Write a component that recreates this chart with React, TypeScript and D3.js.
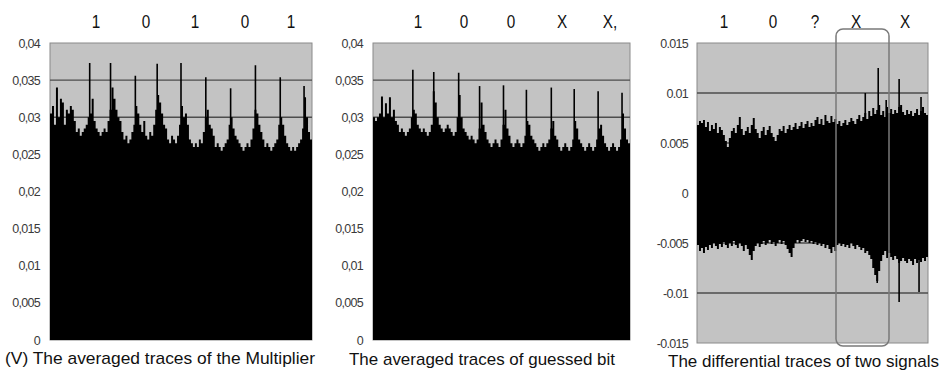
import React from "react";
import * as d3 from "d3";

// ---------- DATA ----------
// Panel 1: averaged traces of the multiplier (envelope samples, V)
const P1_ENV = [
  0.0305, 0.0315, 0.029, 0.034, 0.03, 0.0325, 0.032, 0.029, 0.031, 0.0305,
  0.0315, 0.031, 0.0295, 0.028, 0.0285, 0.0275, 0.028, 0.0285, 0.029, 0.03,
  0.0305, 0.0325, 0.0295, 0.0285, 0.028, 0.0275, 0.028, 0.0285, 0.028, 0.0295,
  0.031, 0.034, 0.0325, 0.031, 0.03, 0.0295, 0.028, 0.027, 0.0275, 0.0265,
  0.027, 0.028, 0.029, 0.0315, 0.0305, 0.029, 0.028, 0.0295, 0.0275, 0.027,
  0.028, 0.0275, 0.029, 0.031, 0.033, 0.032, 0.0305, 0.029, 0.0285, 0.027,
  0.0265, 0.0275, 0.027, 0.0265, 0.0275, 0.029, 0.0315, 0.03, 0.0305, 0.029,
  0.027, 0.0265, 0.026, 0.0265, 0.026, 0.027, 0.0265, 0.028, 0.03, 0.031,
  0.029, 0.0285, 0.0275, 0.026, 0.0265, 0.026, 0.0255, 0.026, 0.0265, 0.027,
  0.029, 0.03, 0.0285, 0.0275, 0.027, 0.0265, 0.026, 0.0255, 0.026, 0.0265,
  0.026, 0.027, 0.0285, 0.031, 0.0305, 0.029, 0.028, 0.027, 0.026, 0.0265,
  0.026, 0.0255, 0.026, 0.0265, 0.027, 0.029, 0.03, 0.029, 0.0275, 0.0265,
  0.026, 0.0255, 0.026, 0.0255, 0.026, 0.0265, 0.027, 0.0285, 0.0327, 0.03,
  0.028, 0.027,
];
const P1_SPIKE_AT = [20, 30.5, 43, 54, 66, 78.5, 91, 103.5, 116, 128];
const P1_SPIKE_V = [0.0373, 0.0373, 0.0356, 0.0372, 0.0373, 0.0354, 0.0339, 0.037, 0.0354, 0.0342];
const P1_BITS = ["1", "0", "1", "0", "1"];

// Panel 2: averaged traces of guessed bit
const P2_ENV = [
  0.03, 0.0295, 0.03, 0.0305, 0.0328, 0.03, 0.0319, 0.0305, 0.0327, 0.03,
  0.031, 0.0295, 0.029, 0.028, 0.0285, 0.028, 0.0275, 0.028, 0.0285, 0.03,
  0.031, 0.0305, 0.029, 0.0285, 0.028, 0.0285, 0.028, 0.0275, 0.028, 0.029,
  0.0335, 0.032, 0.03, 0.029, 0.0285, 0.028, 0.0285, 0.029, 0.0285, 0.028,
  0.0275, 0.028, 0.03, 0.033, 0.03, 0.0285, 0.028, 0.0275, 0.027, 0.0275,
  0.027, 0.0265, 0.027, 0.0285, 0.032, 0.029, 0.028, 0.027, 0.0265, 0.026,
  0.0265, 0.027, 0.0265, 0.026, 0.027, 0.029, 0.031, 0.0285, 0.0275, 0.0265,
  0.026, 0.0265, 0.027, 0.0265, 0.026, 0.0265, 0.0275, 0.0295, 0.029, 0.0275,
  0.027, 0.0265, 0.026, 0.0255, 0.026, 0.0265, 0.026, 0.0265, 0.027, 0.0285,
  0.0295, 0.0275, 0.027, 0.026, 0.0255, 0.026, 0.0265, 0.026, 0.0255, 0.026,
  0.027, 0.0295, 0.0285, 0.027, 0.0265, 0.026, 0.0255, 0.026, 0.0265, 0.026,
  0.0255, 0.026, 0.027, 0.0285, 0.029, 0.0275, 0.0265, 0.026, 0.0255, 0.026,
  0.0265, 0.026, 0.0255, 0.026, 0.027, 0.0305, 0.0285, 0.027, 0.0265,
];
const P2_SPIKE_AT = [20, 30.5, 43, 53.5, 65.5, 77, 89.5, 101, 113, 125];
const P2_SPIKE_V = [0.0364, 0.0361, 0.036, 0.0342, 0.0343, 0.0337, 0.034, 0.0338, 0.0335, 0.0333];
const P2_BITS = ["1", "0", "0", "X", "X,"];

// Panel 3: differential traces (upper / lower envelope samples)
const P3_UP = [
  0.0068, 0.0072, 0.007, 0.0073, 0.0066, 0.0071, 0.0062, 0.0068, 0.0064, 0.007,
  0.006, 0.0066, 0.0063, 0.0058, 0.0052, 0.0046, 0.0055, 0.0062, 0.0065, 0.006,
  0.0068, 0.0076, 0.0064, 0.0058, 0.0062, 0.0066, 0.006, 0.0068, 0.0075, 0.0064,
  0.006, 0.0055, 0.0062, 0.0066, 0.0058, 0.0063, 0.0067, 0.006, 0.0056, 0.0052,
  0.0058, 0.0064, 0.0062, 0.0067, 0.006, 0.0064, 0.0068, 0.0063, 0.0066, 0.007,
  0.0064, 0.0067, 0.0071, 0.0065, 0.0069, 0.0072, 0.0066, 0.007, 0.0067, 0.0073,
  0.0076, 0.0069, 0.0074, 0.0068, 0.0078, 0.0072, 0.007, 0.0077, 0.0071, 0.0074,
  0.0069, 0.0072, 0.0067, 0.007, 0.0073, 0.0068, 0.0071, 0.0075, 0.0072, 0.0069,
  0.0074, 0.0078, 0.0072, 0.0076, 0.008, 0.0074, 0.0082, 0.0077, 0.0085, 0.0079,
  0.0083, 0.0088, 0.0078, 0.0082, 0.0076, 0.0086, 0.008, 0.0084, 0.0079, 0.0083,
  0.008, 0.0086, 0.0088, 0.0081, 0.0078, 0.0083, 0.0079, 0.0082, 0.0077, 0.008,
  0.0084, 0.0078, 0.0082, 0.0086, 0.008, 0.0078,
];
const P3_LO = [
  -0.0052, -0.0058, -0.0055, -0.006, -0.0054, -0.0057, -0.0052, -0.0055, -0.005, -0.0053,
  -0.0056, -0.0051, -0.0054, -0.0049, -0.0052, -0.0055, -0.005, -0.0053, -0.0048, -0.0052,
  -0.0055, -0.005, -0.0053, -0.0058, -0.0052, -0.0056, -0.0062, -0.0067, -0.0058, -0.0053,
  -0.005, -0.0054, -0.0051, -0.0048, -0.0052, -0.005, -0.0047, -0.0051, -0.0049, -0.0053,
  -0.005, -0.0047, -0.0051, -0.0048, -0.0052, -0.0056, -0.006, -0.0064, -0.0055, -0.005,
  -0.0047, -0.005, -0.0048, -0.0046, -0.0049, -0.0047, -0.005, -0.0048, -0.0051, -0.0049,
  -0.0052, -0.005, -0.0053, -0.0051, -0.0055, -0.0052, -0.0056, -0.006, -0.0054, -0.0058,
  -0.0052, -0.005, -0.0053, -0.0051, -0.0054, -0.0052, -0.0055, -0.005, -0.0053, -0.0056,
  -0.0052, -0.0054, -0.0057, -0.0055, -0.006, -0.0058, -0.0062, -0.0066, -0.0075, -0.0082,
  -0.0088, -0.0078, -0.0068, -0.0062, -0.0058, -0.0065, -0.006, -0.0064, -0.0067, -0.0063,
  -0.0066, -0.007, -0.0068, -0.0065, -0.0068, -0.007, -0.0066, -0.0068, -0.0072, -0.0066,
  -0.007, -0.0067, -0.0069, -0.0065, -0.0068, -0.0064,
];
const P3_SPIKE_AT = [84.5, 91, 95, 101.5, 112.5, 90.5, 101.5, 111.5];
const P3_SPIKE_V = [0.01, 0.0125, 0.0093, 0.0114, 0.0096, -0.009, -0.0109, -0.0099];
const P3_BITS = ["1", "0", "?", "X", "X"];

const TICKS_12 = [0, 0.005, 0.01, 0.015, 0.02, 0.025, 0.03, 0.035, 0.04];
const GRID_12 = [0.03, 0.035];
const TICKS_3 = [-0.015, -0.01, -0.005, 0, 0.005, 0.01, 0.015];
const GRID_3 = [-0.01, -0.005, 0.005, 0.01];

const CAPTIONS = [
  "(V)  The averaged traces of the Multiplier",
  "The averaged traces of guessed bit",
  "The differential traces of two signals",
];

// ---------- LAYOUT ----------
const BG = "#c3c3c3";
const GRID = "#4d4d4d";
const FONT = "'Liberation Sans', Arial, sans-serif";

type PanelProps = {
  x0: number; x1: number; y0: number; y1: number;
  domain: [number, number];
  ticks: number[]; grid: number[];
  fmt: (v: number) => string;
  labelX: number;
  children: (xs: d3.ScaleLinear<number, number>, ys: d3.ScaleLinear<number, number>) => React.ReactNode;
  n: number;
  bits: string[]; bitX: number[];
  caption: string; capX: number; capW: number; capY: number;
};

function Panel(p: PanelProps) {
  const xs = d3.scaleLinear().domain([0, p.n]).range([p.x0, p.x1]);
  const ys = d3.scaleLinear().domain(p.domain).range([p.y1, p.y0]);
  return (
    <g>
      <rect x={p.x0} y={p.y0} width={p.x1 - p.x0} height={p.y1 - p.y0} fill={BG} stroke="#8a8a8a" strokeWidth={1} />
      {p.grid.map((g) => (
        <line key={g} x1={p.x0} x2={p.x1} y1={ys(g)} y2={ys(g)} stroke={GRID} strokeWidth={1.3} />
      ))}
      {p.children(xs, ys)}
      {p.ticks.map((t) => (
        <text key={t} x={p.labelX} y={ys(t) + 4.5} textAnchor="end" fontSize={12.5} fill="#3a3a3a"
          fontFamily={FONT} letterSpacing={-0.7}>
          {p.fmt(t)}
        </text>
      ))}
      {p.bits.map((b, i) => (
        <text key={i} x={p.bitX[i]} y={28} textAnchor="middle" fontSize={18} fill="#111"
          fontFamily={FONT} transform={`translate(${p.bitX[i]},0) scale(0.85,1) translate(${-p.bitX[i]},0)`}>
          {b}
        </text>
      ))}
      <text x={p.capX} y={p.capY} fontSize={17} fill="#111" fontFamily={FONT}
        textLength={p.capW} lengthAdjust="spacingAndGlyphs">
        {p.caption}
      </text>
    </g>
  );
}

function Bars({ xs, ys, env, spikeAt, spikeV }: any) {
  const pts = env.map((v: number, i: number) => [i, v]).concat([[env.length, env[env.length - 1]]]);
  const area = d3.area<number[]>()
    .x((d) => xs(d[0]))
    .y0(ys(0))
    .y1((d) => ys(d[1]))
    .curve(d3.curveStepAfter);
  return (
    <g>
      <path d={area(pts) || ""} fill="#000" />
      {spikeAt.map((a: number, i: number) => (
        <line key={"s" + i} x1={xs(a)} x2={xs(a)} y1={ys(0)} y2={ys(spikeV[i])} stroke="#000" strokeWidth={1.6} />
      ))}
    </g>
  );
}

function Band({ xs, ys }: any) {
  const pts = P3_UP.map((v, i) => [i, v, P3_LO[i]]).concat([[P3_UP.length, P3_UP[P3_UP.length - 1], P3_LO[P3_LO.length - 1]]]);
  const area = d3.area<number[]>()
    .x((d) => xs(d[0]))
    .y0((d) => ys(d[2]))
    .y1((d) => ys(d[1]))
    .curve(d3.curveStepAfter);
  return (
    <g>
      <path d={area(pts) || ""} fill="#000" />
      {P3_SPIKE_AT.map((a, i) => (
        <line key={"s" + i} x1={xs(a)} x2={xs(a)} y1={ys(0)} y2={ys(P3_SPIKE_V[i])} stroke="#000" strokeWidth={1.6} />
      ))}
    </g>
  );
}

const comma = (v: number) => (v === 0 ? "0" : String(+v.toFixed(3)).replace(".", ","));
const dot = (v: number) => (v === 0 ? "0" : String(+v.toFixed(3)));

export default function App() {
  return (
    <svg width={942} height={374} style={{ position: "absolute", left: 0, top: 0, background: "#fff" }}>
      <Panel x0={50} x1={312} y0={43} y1={340} domain={[0, 0.04]} ticks={TICKS_12} grid={GRID_12}
        fmt={comma} labelX={40} n={P1_ENV.length} bits={P1_BITS} bitX={[96, 146, 195, 245, 291]}
        caption={CAPTIONS[0]} capX={5} capW={310} capY={364}>
        {(xs, ys) => <Bars xs={xs} ys={ys} env={P1_ENV} spikeAt={P1_SPIKE_AT} spikeV={P1_SPIKE_V} />}
      </Panel>
      <Panel x0={373} x1={630} y0={43} y1={340} domain={[0, 0.04]} ticks={TICKS_12} grid={GRID_12}
        fmt={comma} labelX={363} n={P2_ENV.length} bits={P2_BITS} bitX={[418, 464, 511, 562, 610]}
        caption={CAPTIONS[1]} capX={349} capW={266} capY={365}>
        {(xs, ys) => <Bars xs={xs} ys={ys} env={P2_ENV} spikeAt={P2_SPIKE_AT} spikeV={P2_SPIKE_V} />}
      </Panel>
      <Panel x0={697} x1={928} y0={43} y1={343} domain={[-0.015, 0.015]} ticks={TICKS_3} grid={GRID_3}
        fmt={dot} labelX={688} n={P3_UP.length} bits={P3_BITS} bitX={[724, 773, 815, 856, 905]}
        caption={CAPTIONS[2]} capX={668} capW={271} capY={367}>
        {(xs, ys) => <Band xs={xs} ys={ys} />}
      </Panel>
      <rect x={836} y={29} width={53} height={317} rx={7} fill="none" stroke="#7a7a7a" strokeWidth={1.5} />
    </svg>
  );
}
